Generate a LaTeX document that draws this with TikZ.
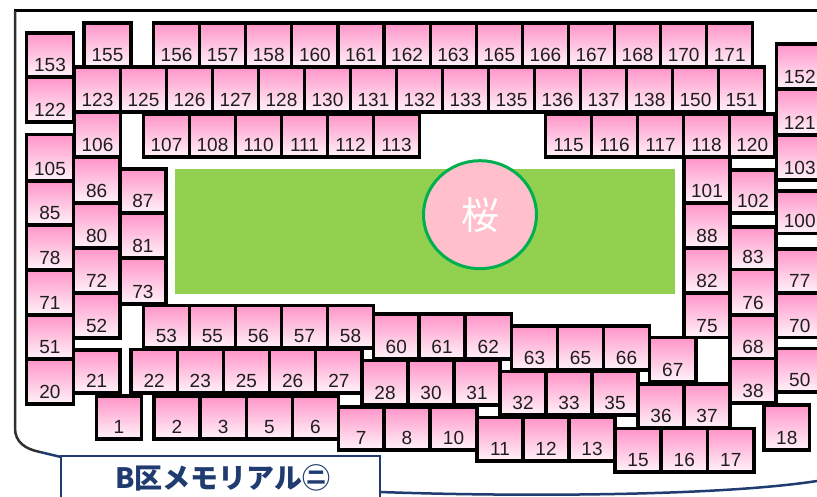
\documentclass[tikz,border=0pt]{standalone}
\usepackage{fontspec}
\usetikzlibrary{shapes.geometric}
\setmainfont{Liberation Sans}
\newfontfamily\cjk{Noto Sans CJK JP}
\definecolor{navy}{HTML}{1F3B70}
\definecolor{pinktop}{RGB}{255,148,200}
\definecolor{pinkbot}{RGB}{255,243,249}
\definecolor{grass}{HTML}{92D050}
\definecolor{cgreen}{HTML}{00B050}
\definecolor{cpink}{HTML}{FFBFCB}
\definecolor{lblgray}{HTML}{1E1E1E}
\definecolor{edgegray}{HTML}{303030}
\tikzset{
  seatfill/.style={top color=pinktop, bottom color=pinkbot},
  seatedge/.style={draw=black, line width=3.2pt},
  seatlbl/.style={anchor=base, inner sep=0pt, text=lblgray, font=\fontsize{19}{19}\selectfont},
  frameline/.style={line width=3pt, draw=black},
  navyline/.style={line width=2.5pt, draw=navy}
}
\def\seatlist{%
84/23/131/67/155,
153.5/23/199.6/67/156,
199.6/23/245.7/67/157,
245.7/23/291.8/67/158,
291.8/23/337.9/67/160,
337.9/23/384/67/161,
384/23/430.1/67/162,
430.1/23/476.2/67/163,
476.2/23/522.3/67/165,
522.3/23/568.4/67/166,
568.4/23/614.5/67/167,
614.5/23/660.6/67/168,
660.6/23/706.7/67/170,
706.7/23/752.8/67/171,
26.5/33/73.5/77/153,
26.5/77/73.5/122/122,
74.5/67/120.5/112/123,
120.5/67/166.5/112/125,
166.5/67/212.5/112/126,
212.5/67/258.5/112/127,
258.5/67/304.5/112/128,
304.5/67/350.5/112/130,
350.5/67/396.5/112/131,
396.5/67/442.5/112/132,
442.5/67/488.5/112/133,
488.5/67/534.5/112/135,
534.5/67/580.5/112/136,
580.5/67/626.5/112/137,
626.5/67/672.5/112/138,
672.5/67/718.5/112/150,
718.5/67/764.5/112/151,
74.5/112/120.5/157/106,
143.5/114/189.5/157/107,
189.5/114/235.5/157/108,
235.5/114/281.5/157/110,
281.5/114/327.5/157/111,
327.5/114/373.5/157/112,
373.5/114/419.5/157/113,
545.5/114/591.5/157/115,
591.5/114/637.5/157/116,
637.5/114/683.5/157/117,
683.5/114/729.5/157/118,
729.5/114/775/157/120,
776.5/44/823/89/152,
776.5/89/823/135/121,
776.5/135/823/180/103,
776.5/191/823/233.5/100,
776.5/249/823/293/77,
776.5/293/823/337.5/70,
776.5/348.5/823/392/50,
684/157/730/203/101,
684/203/730/248/88,
684/248/730/293/82,
684/293/730/337.5/75,
730/170/776/213/102,
730/227/776/269.5/83,
730/269.5/776/315/76,
730/315/776/358.5/68,
730/358.5/776/403/38,
26.5/134.5/73.5/181/105,
26.5/181/73.5/225/85,
26.5/225/73.5/270/78,
26.5/270/73.5/315/71,
26.5/315/73.5/359/51,
26.5/359/73.5/404/20,
73.5/157/120/203/86,
73.5/203/120/248/80,
73.5/248/120/293/72,
73.5/293/120/338/52,
73.5/350/120/393/21,
120/169/166/213/87,
120/213/166/258/81,
120/258/166/304/73,
143.5/305.5/189.5/348/53,
189.5/305.5/235.5/348/55,
235.5/305.5/281.5/348/56,
281.5/305.5/327.5/348/57,
327.5/305.5/373.5/348/58,
373.5/314/419/359/60,
419/314/465/359/61,
465/314/511.5/359/62,
511.5/326/557.5/370/63,
557.5/326/603.5/370/65,
603.5/326/649.5/370/66,
649.5/337.5/696/381.5/67,
131/349.5/177.2/393/22,
177.2/349.5/223.4/393/23,
223.4/349.5/269.6/393/25,
269.6/349.5/315.8/393/26,
315.8/349.5/362/393/27,
362/360.5/408/405/28,
408/360.5/454/405/30,
454/360.5/500/405/31,
500/371.5/546/415/32,
546/371.5/592/415/33,
592/371.5/638/415/35,
638/384/684/427.5/36,
684/384/730/427.5/37,
96.5/396/141.5/439/1,
154/396/200/439/2,
200/396/246.3/439/3,
246.3/396/292.5/439/5,
292.5/396/338.5/439/6,
338.5/407/384/450/7,
384/407/430/450/8,
430/407/477/450/10,
477/417.5/523/461/11,
523/417.5/569/461/12,
569/417.5/615/461/13,
615/428.5/661/472/15,
661/428.5/707.5/472/16,
707.5/428.5/754/472/17,
764/405/809.5/450/18}
\begin{document}
\begin{tikzpicture}[x=1pt,y=-1pt]
\useasboundingbox (0,0) rectangle (817,497);
\clip (0,0) rectangle (817,497);
\fill[white] (0,0) rectangle (817,497);
% outer frame
\draw[frameline] (14,11) -- (817,11);
\draw[line width=2.5pt, draw=edgegray] (15,11) -- (15,428) .. controls (15,442) and (25,449) .. (40,452);
\draw[navyline] (40,452) -- (61,457);
\draw[navyline] (380,492) .. controls (520,497) and (720,496) .. (817,481);
% field
\fill[grass] (175,169) rectangle (675,294);
\node[ellipse, draw=cgreen, line width=3pt, fill=cpink, minimum width=113pt, minimum height=108pt, inner sep=0pt,
      text=white, font={\cjk\fontsize{38}{38}\selectfont}] (sakura) at (480,214.7) {桜};
% seats
\foreach \a/\b/\c/\d/\n in \seatlist {
  \shade[seatfill] (\a,\b) rectangle (\c,\d);
}
\foreach \a/\b/\c/\d/\n in \seatlist {
  \draw[seatedge] (\a,\b) rectangle (\c,\d);
}
\foreach \a/\b/\c/\d/\n in \seatlist {
  \node[seatlbl, name=s\n] at ({(\a+\c)/2},{\d-5.5}) {\n};
}
% title box
\draw[navyline, fill=white] (61,456) rectangle (380,505);
\node[text=navy, font={\cjk\bfseries\fontsize{28}{30}\selectfont}] (title) at (223,478) {B区メモリアル㊁};
\end{tikzpicture}
\end{document}
